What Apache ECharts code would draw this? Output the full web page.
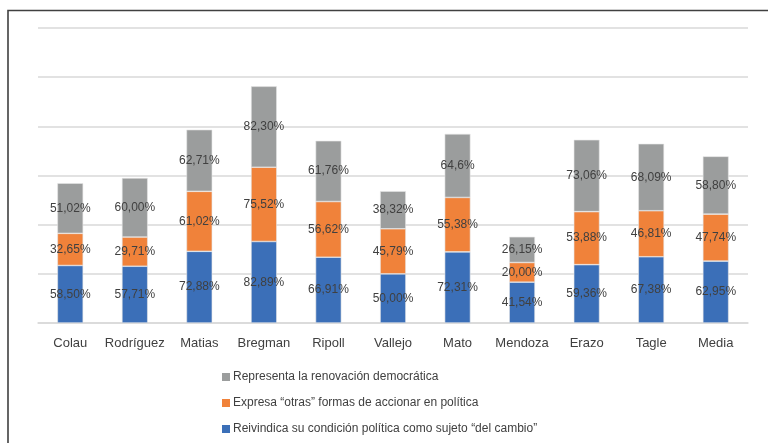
<!DOCTYPE html>
<html>
<head>
<meta charset="utf-8">
<script src="https://cdn.jsdelivr.net/npm/echarts@6/dist/echarts.min.js"></script>
<style>
  html, body { margin: 0; padding: 0; background: #fff; }
  #chart { width: 768px; height: 443px; }
</style>
</head>
<body>
<div id="chart"></div>
<script>
const categories = ['Colau', 'Rodríguez', 'Matias', 'Bregman', 'Ripoll', 'Vallejo', 'Mato', 'Mendoza', 'Erazo', 'Tagle', 'Media']
const cambio = [58.50, 57.71, 72.88, 82.89, 66.91, 50.00, 72.31, 41.54, 59.36, 67.38, 62.95]
const otras = [32.65, 29.71, 61.02, 75.52, 56.62, 45.79, 55.38, 20.00, 53.88, 46.81, 47.74]
const renovacion = [51.02, 60.00, 62.71, 82.30, 61.76, 38.32, 64.6, 26.15, 73.06, 68.09, 58.80]
// labels as printed in the source (one has a single decimal)
const renovacionText = ['51,02%', '60,00%', '62,71%', '82,30%', '61,76%', '38,32%', '64,6%', '26,15%', '73,06%', '68,09%', '58,80%']

const names = [
  'Reivindica su condición política como sujeto “del cambio”',
  'Expresa “otras” formas de accionar en política',
  'Representa la renovación democrática'
]

const font = '"Liberation Sans", Arial, sans-serif'
const fmt = v => v.toFixed(2).replace('.', ',') + '%'

function bar (name, data, color, texts) {
  return {
    name: name,
    type: 'bar',
    stack: 'total',
    barWidth: '40%',
    data: data,
    itemStyle: { color: color, borderColor: '#e6e6e6', borderWidth: 0.6 },
    label: {
      show: true,
      position: 'inside',
      color: '#404040',
      fontFamily: font,
      fontSize: 12,
      formatter: p => texts ? texts[p.dataIndex] : fmt(p.value)
    }
  }
}

const chart = echarts.init(document.getElementById('chart'))
chart.setOption({
  animation: false,
  backgroundColor: '#fff',
  textStyle: { fontFamily: font },
  grid: { left: 38, right: 20, top: 28, bottom: 120 },
  legend: {
    orient: 'vertical',
    left: 217,
    top: 366,
    itemWidth: 8,
    itemHeight: 8,
    itemGap: 14,
    icon: 'rect',
    itemStyle: { borderWidth: 0 },
    data: [names[2], names[1], names[0]],
    textStyle: { color: '#404040', fontSize: 12, fontFamily: font, padding: [0, 0, 0, -2] }
  },
  graphic: [{
    type: 'rect',
    shape: { x: 8, y: 10.5, width: 780, height: 450 },
    style: { fill: 'none', stroke: '#404040', lineWidth: 1.6 },
    silent: true
  }],
  xAxis: {
    type: 'category',
    data: categories,
    axisLine: { lineStyle: { color: '#d9d9d9', width: 1.5 } },
    axisTick: { show: false },
    axisLabel: { interval: 0, color: '#404040', fontSize: 13, fontFamily: font, margin: 14 }
  },
  yAxis: {
    type: 'value',
    min: 0,
    max: 300,
    interval: 50,
    axisLabel: { show: false },
    axisLine: { show: false },
    axisTick: { show: false },
    splitLine: { lineStyle: { color: '#d9d9d9', width: 1.5 } }
  },
  series: [
    bar(names[0], cambio, '#3b6fb8'),
    bar(names[1], otras, '#f0823a'),
    bar(names[2], renovacion, '#9b9d9d', renovacionText)
  ]
})

window.onresize = () => {
  chart.resize()
}
</script>
</body>
</html>
